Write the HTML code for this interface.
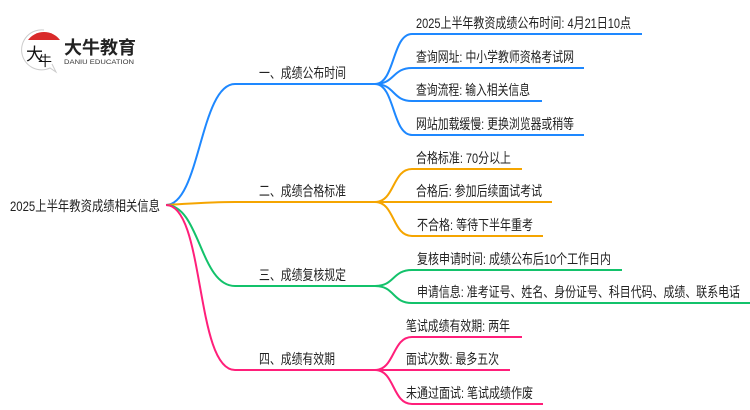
<!DOCTYPE html>
<html><head><meta charset="utf-8"><style>
html,body{margin:0;padding:0;background:#fff;width:750px;height:410px;overflow:hidden}
svg text{font-family:"Liberation Sans","Noto Sans CJK SC",sans-serif;font-size:14px;fill:#222}
</style></head><body>
<svg width="750" height="410" viewBox="0 0 750 410" xmlns="http://www.w3.org/2000/svg">
<!-- logo -->
<path d="M44 30 A20 20 0 1 0 50 68 L56 72 L52 64" fill="#fff" stroke="#ccc" stroke-width="1"/>
<path d="M28 40 A20 20 0 0 1 60 40 Z" fill="#d92a2a"/>
<text x="26" y="60" style="font-size:17px;fill:#111">大</text>
<text x="38" y="66" style="font-size:14px;fill:#111">牛</text>
<text x="64" y="54" textLength="72" lengthAdjust="spacingAndGlyphs" style="font-size:18px;font-weight:bold;fill:#222">大牛教育</text>
<text x="64" y="64" textLength="70" lengthAdjust="spacingAndGlyphs" style="font-size:6.5px;fill:#333">DANIU EDUCATION</text>

<g fill="none" stroke-width="2">
<path d="M166 205 C200 205 200 84 235 84 L375 84" stroke="#1e88ff"/>
<path d="M375 84 C395 84 392 34 412 34 L642 34" stroke="#1e88ff"/>
<path d="M375 84 C395 84 392 68 412 68 L584 68" stroke="#1e88ff"/>
<path d="M375 84 C395 84 392 101 412 101 L542 101" stroke="#1e88ff"/>
<path d="M375 84 C395 84 392 135 412 135 L584 135" stroke="#1e88ff"/>
<path d="M166 205 C200 203 210 202 235 202 L375 202" stroke="#f5a500"/>
<path d="M375 202 C395 202 392 169 412 169 L522 169" stroke="#f5a500"/>
<path d="M375 202 L552 202" stroke="#f5a500"/>
<path d="M375 202 C395 202 392 236 412 236 L543 236" stroke="#f5a500"/>
<path d="M166 205 C200 205 200 286 235 286 L375 286" stroke="#13c26b"/>
<path d="M375 286 C395 286 392 270 412 270 L622 270" stroke="#13c26b"/>
<path d="M375 286 C395 286 392 303 412 303 L750 303" stroke="#13c26b"/>
<path d="M166 205 C205 205 195 370 235 370 L375 370" stroke="#ff1f7a"/>
<path d="M375 370 C395 370 392 337 412 337 L522 337" stroke="#ff1f7a"/>
<path d="M375 370 L510 370" stroke="#ff1f7a"/>
<path d="M375 370 C395 370 392 404 412 404 L543 404" stroke="#ff1f7a"/>
</g>

<g lengthAdjust="spacingAndGlyphs">
<text x="10" y="211" textLength="150" lengthAdjust="spacingAndGlyphs">2025上半年教资成绩相关信息</text>
<text x="259" y="78" textLength="87" lengthAdjust="spacingAndGlyphs">一、成绩公布时间</text>
<text x="259" y="196" textLength="87" lengthAdjust="spacingAndGlyphs">二、成绩合格标准</text>
<text x="259" y="280" textLength="87" lengthAdjust="spacingAndGlyphs">三、成绩复核规定</text>
<text x="259" y="364" textLength="76" lengthAdjust="spacingAndGlyphs">四、成绩有效期</text>

<text x="416" y="28" textLength="215" lengthAdjust="spacingAndGlyphs">2025上半年教资成绩公布时间: 4月21日10点</text>
<text x="416" y="62" textLength="158" lengthAdjust="spacingAndGlyphs">查询网址: 中小学教师资格考试网</text>
<text x="416" y="95" textLength="114" lengthAdjust="spacingAndGlyphs">查询流程: 输入相关信息</text>
<text x="416" y="129" textLength="158" lengthAdjust="spacingAndGlyphs">网站加载缓慢: 更换浏览器或稍等</text>
<text x="416" y="163" textLength="95" lengthAdjust="spacingAndGlyphs">合格标准: 70分以上</text>
<text x="416" y="196" textLength="126" lengthAdjust="spacingAndGlyphs">合格后: 参加后续面试考试</text>
<text x="417" y="230" textLength="116" lengthAdjust="spacingAndGlyphs">不合格: 等待下半年重考</text>
<text x="417" y="264" textLength="194" lengthAdjust="spacingAndGlyphs">复核申请时间: 成绩公布后10个工作日内</text>
<text x="417" y="297" textLength="323" lengthAdjust="spacingAndGlyphs">申请信息: 准考证号、姓名、身份证号、科目代码、成绩、联系电话</text>
<text x="406" y="331" textLength="104" lengthAdjust="spacingAndGlyphs">笔试成绩有效期: 两年</text>
<text x="406" y="364" textLength="93" lengthAdjust="spacingAndGlyphs">面试次数: 最多五次</text>
<text x="406" y="398" textLength="127" lengthAdjust="spacingAndGlyphs">未通过面试: 笔试成绩作废</text>
</g>
</svg>
</body></html>
